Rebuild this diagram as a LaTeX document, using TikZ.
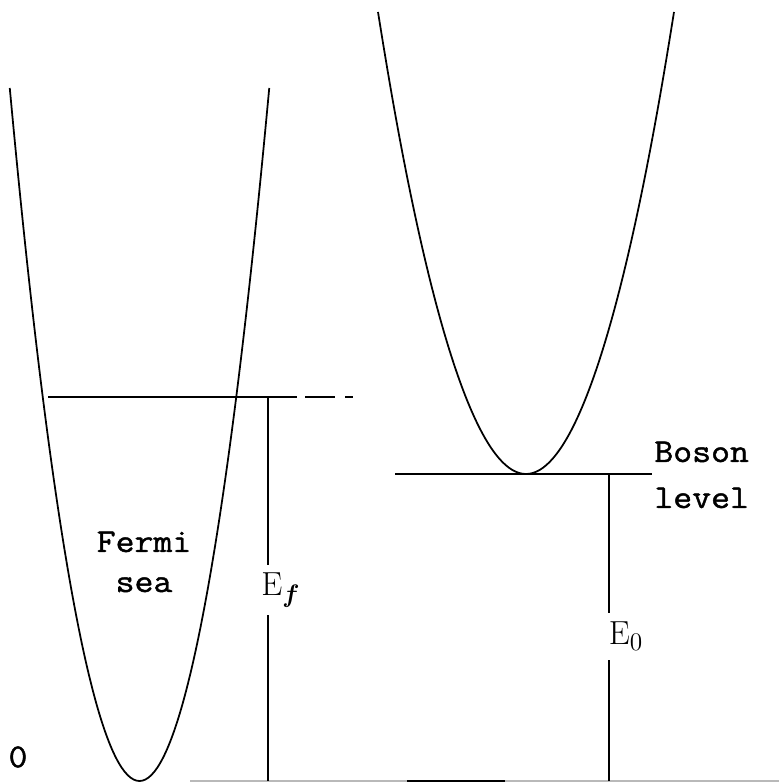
\documentclass[tikz,border=0pt]{standalone}
\usepackage{amsmath}
\usepackage{fontspec}
\setmonofont{Latin Modern Mono}[FakeStretch=1.1, FakeBold=1.3]
\usetikzlibrary{positioning}

\tikzset{
  curve/.style={line width=1pt},
  level/.style={line width=1pt},
  txt/.style={font=\ttfamily\fontsize{19}{21}\selectfont, inner sep=0pt},
  elabel/.style={font=\fontsize{19}{21}\selectfont, inner sep=0pt}
}

\begin{document}
\begin{tikzpicture}
    \useasboundingbox (0,0) rectangle (15.58,15.64);

    \coordinate (FV) at (2.79,0.02);
    \coordinate (BV) at (10.52,6.16);
    \coordinate (FL) at (0.96,7.7);
    \coordinate (FR) at (5.94,7.7);
    \coordinate (Ftop) at (5.36,7.7);
    \coordinate (Fbot) at (5.36,0.02);
    \coordinate (BL) at (7.9,6.16);
    \coordinate (BR) at (13.04,6.16);
    \coordinate (Btop) at (12.18,6.16);
    \coordinate (Bbot) at (12.18,0.02);

    % the two parabolas
    \draw[curve] (0.195,13.88) parabola bend (FV) (5.385,13.88);
    \draw[curve] (7.56,15.4) parabola bend (BV) (13.48,15.4);

    % faint base line
    \draw[gray!55, line width=0.8pt] (3.8,0.02) -- (15.58,0.02);
    \draw[line width=0.8pt] (8.14,0.02) -- (10.1,0.02);

    % Fermi level
    \draw[level] (FL) -- (FR);
    \draw[level, dash pattern=on 0.6cm off 0.2cm] (6.1,7.7) -- (7.06,7.7);

    % Boson level
    \draw[level] (BL) -- (BR);

    % energies
    \node[elabel, minimum height=1cm] (Ef) at (5.62,3.84) {$\mathrm{E}_{\boldsymbol{f}}$};
    \node[elabel, minimum height=0.94cm] (E0) at (12.52,2.91) {$\mathrm{E}_0$};
    \draw[level] (Ftop) -- (Ftop |- Ef.north);
    \draw[level] (Ftop |- Ef.south) -- (Fbot);
    \draw[level] (Btop) -- (Btop |- E0.north);
    \draw[level] (Btop |- E0.south) -- (Bbot);

    \node[txt, anchor=base] (fermi) at (2.88,4.6) {Fermi};
    \node[txt, anchor=base] (sea) at (2.88,3.8) {sea};
    \node[txt, anchor=base west] (boson) at (13.08,6.4) {Boson};
    \node[txt, anchor=base west] (lvl) at (13.08,5.48) {level};
    \node[txt] (zero) at (0.36,0.5) {0};
\end{tikzpicture}
\end{document}
